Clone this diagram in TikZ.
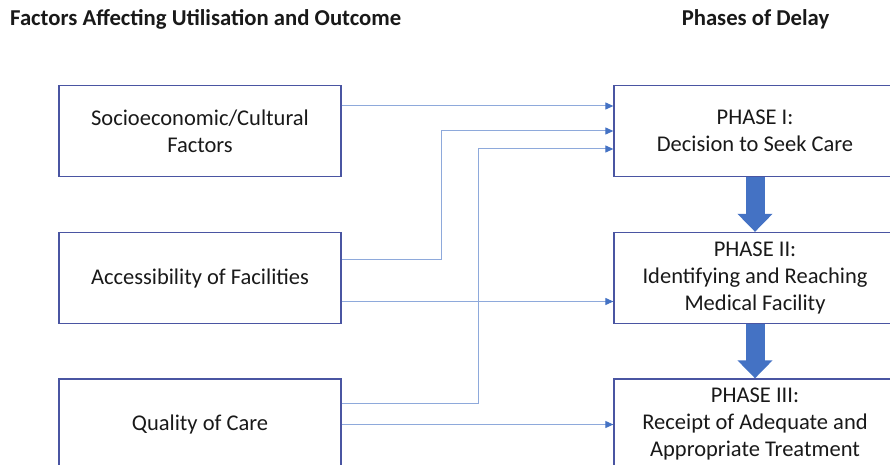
\documentclass[tikz,border=0pt]{standalone}
\usepackage{fontspec}
\setmainfont{Carlito}
\usetikzlibrary{arrows.meta}

\definecolor{boxline}{HTML}{4A55A2}
\definecolor{linkline}{HTML}{8EA9DB}
\definecolor{tipblue}{HTML}{4472C4}

\begin{document}
\begin{tikzpicture}[x=1pt,y=-1pt]
	
	\tikzset{factor/.style = {draw=boxline,line width=1.3pt,minimum width=282pt,minimum height=91pt,align=center,font=\fontsize{22.5}{27}\selectfont,text=black!90}}
	\tikzset{phase/.style = {factor}}
	\tikzset{link/.style = {linkline,line width=1pt,-{Triangle[length=8pt,width=7pt,color=tipblue]}}}
	\tikzset{bigarrow/.style = {tipblue,line width=19pt,-{Triangle[length=18pt,width=34pt]}}}
	\tikzset{heading/.style = {inner sep=0pt,font=\fontsize{22.7}{26}\bfseries\selectfont,text=black!90}}
	
	\clip (0,0) rectangle (890,465);
	\useasboundingbox (0,0) rectangle (890,465);
	
	\node[heading,anchor=west] (hfac) at (10,19) {Factors Affecting Utilisation and Outcome};
	\node[heading] (hpha) at (755.5,19) {Phases of Delay};
	
	\node[factor] (soc) at (200,131) {Socioeconomic/Cultural\\Factors};
	\node[factor] (acc) at (200,278) {Accessibility of Facilities};
	\node[factor] (qoc) at (200,424.5) {Quality of Care};
	
	\node[phase] (ph1) at (755,131) {PHASE I:\\Decision to Seek Care};
	\node[phase] (ph2) at (755,278) {PHASE II:\\Identifying and Reaching\\Medical Facility};
	\node[phase] (ph3) at (755,424.5) {PHASE III:\\Receipt of Adequate and\\Appropriate Treatment};
	
	\draw[link] ([yshift=25pt]soc.east) -- ([yshift=25pt]ph1.west);
	\draw[link] ([yshift=19pt]acc.east) -- ++(100,0) |- (ph1.west);
	\draw[link] ([yshift=21pt]qoc.east) -- ++(137,0) |- ([yshift=-18pt]ph1.west);
	\draw[link] ([yshift=-23.5pt]acc.east) -- ([yshift=-23.5pt]ph2.west);
	\draw[link] (qoc.east) -- (ph3.west);
	
	\draw[bigarrow] (ph1.south) -- (ph2.north);
	\draw[bigarrow] (ph2.south) -- (ph3.north);
\end{tikzpicture}
\end{document}
